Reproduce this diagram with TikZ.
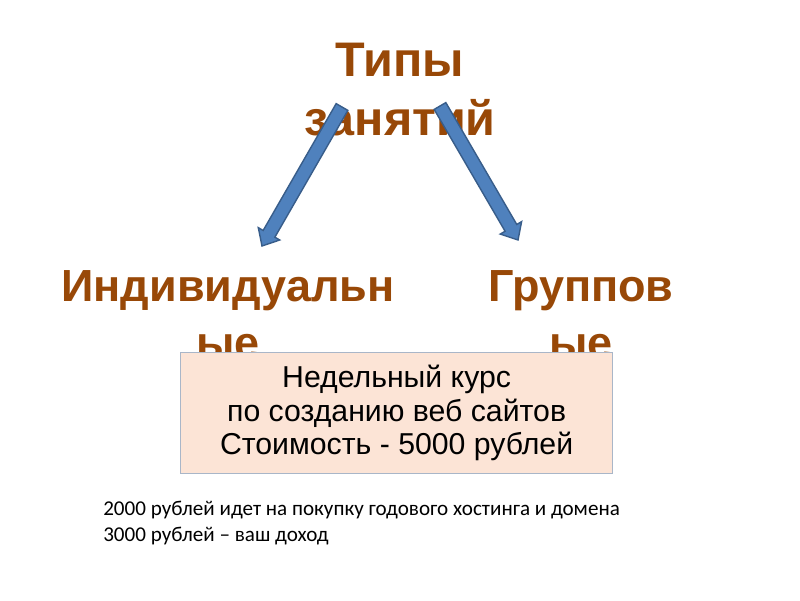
\documentclass[tikz,border=0pt]{standalone}
\usepackage{fontspec}
\setmainfont{Liberation Sans}
\newfontfamily\calibrifont{Carlito}
\usepackage{xcolor}
\usetikzlibrary{positioning, arrows.meta, calc}
\definecolor{titlebrown}{HTML}{984807}
\definecolor{arrowblue}{HTML}{4F81BD}
\definecolor{arrowedge}{HTML}{385D8A}
\definecolor{boxpeach}{HTML}{FCE4D6}
\definecolor{boxedge}{HTML}{A9B6C8}

\tikzset{
  heading/.style={text=titlebrown, align=center, inner sep=0pt, anchor=north,
    font=\fontsize{32}{41}\selectfont\bfseries},
  fatarrow/.style={draw=arrowedge, fill=arrowblue, line width=1pt, line join=miter}
}
\newcommand{\fatarrowpath}[2]{%
  \path[fatarrow] ($(#1)!4.8pt!90:(#2)$)
    -- ($(#2)!10pt!(#1)!4.8pt!90:(#2)$)
    -- ($(#2)!10pt!(#1)!8.8pt!90:(#2)$)
    -- (#2)
    -- ($(#2)!10pt!(#1)!8.8pt!-90:(#2)$)
    -- ($(#2)!10pt!(#1)!4.8pt!-90:(#2)$)
    -- ($(#1)!4.8pt!-90:(#2)$) -- cycle;}

\begin{document}
\begin{tikzpicture}[x=0.025cm, y=-0.025cm]
    \fill[white] (0,0) rectangle (800,600);
    \useasboundingbox (0,0) rectangle (800,600);
    \node[heading, font=\fontsize{34.5}{42}\selectfont\bfseries] (types) at (400,43) {Типы\\занятий};
    \coordinate (lefttail) at (342,107);
    \coordinate (lefttip) at (262,246);
    \coordinate (righttail) at (440,106);
    \coordinate (righttip) at (518,240);
    \fatarrowpath{lefttail}{lefttip}
    \fatarrowpath{righttail}{righttip}
    \node[heading] (single) at (228,270) {Индивидуальн\\ые};
    \node[heading] (group) at (581,270) {Группов\\ые};
    \node[fill=boxpeach, draw=boxedge, line width=0.8pt, anchor=north west,
          minimum width=10.8cm, minimum height=3.025cm, align=center,
          font=\fontsize{21.5}{24}\selectfont] (course) at (180,352) {%
      Недельный курс\\
      по созданию веб сайтов\\
      Стоимость - 5000 рублей};
    \node[anchor=north west, align=left, inner sep=0pt,
          font=\calibrifont\fontsize{15}{18.5}\selectfont] (income) at (103,501) {%
      2000 рублей идет на покупку годового хостинга и домена\\
      3000 рублей – ваш доход};
  \end{tikzpicture}
\end{document}
